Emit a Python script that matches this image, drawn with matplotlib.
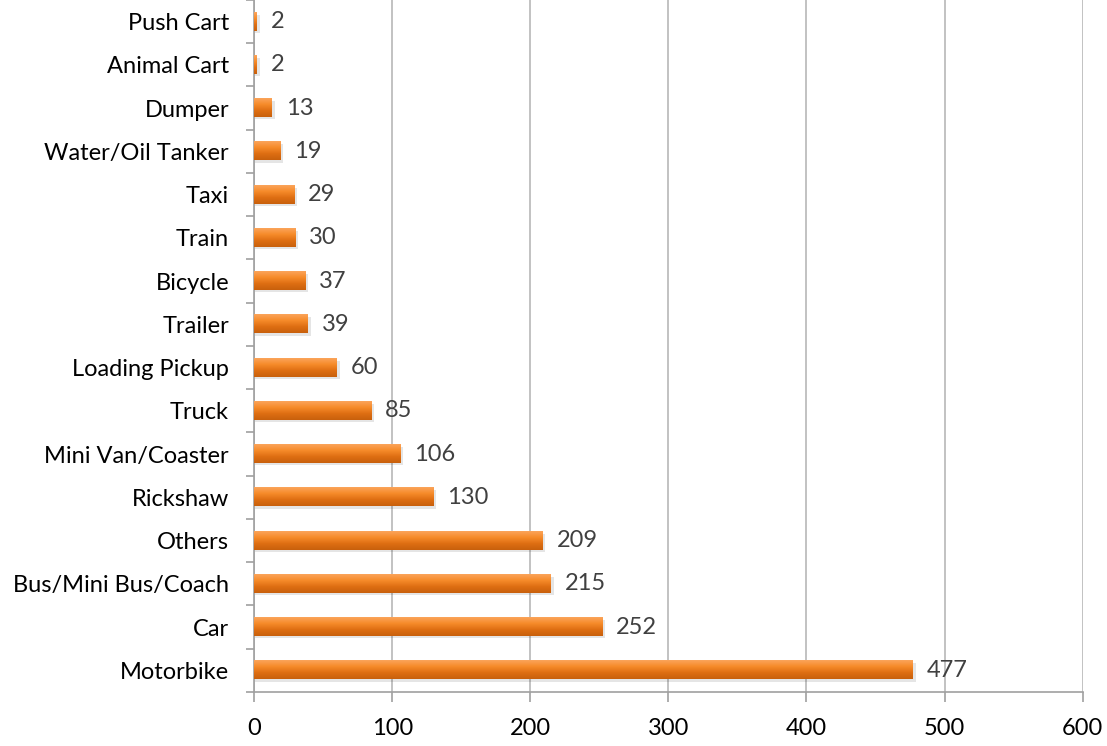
import matplotlib
matplotlib.use("Agg")
import matplotlib.pyplot as plt
import numpy as np
from matplotlib.colors import LinearSegmentedColormap

categories = ["Motorbike", "Car", "Bus/Mini Bus/Coach", "Others", "Rickshaw",
              "Mini Van/Coaster", "Truck", "Loading Pickup", "Trailer", "Bicycle",
              "Train", "Taxi", "Water/Oil Tanker", "Dumper", "Animal Cart", "Push Cart"]
values = [477, 252, 215, 209, 130, 106, 85, 60, 39, 37, 30, 29, 19, 13, 2, 2]
xticks = [0, 100, 200, 300, 400, 500, 600]

plt.rcParams['font.family'] = ['Lato', 'DejaVu Sans']
fig = plt.figure(figsize=(11.07, 7.46), dpi=100)
ax = fig.add_axes([0.2295, 0.0724, 0.7485, 0.9276])

y = np.arange(len(categories))
h = 0.42

cmap = LinearSegmentedColormap.from_list("og", ["#C8600C", "#DE6E12", "#F68B2A", "#FBA45A"])
grad = np.linspace(0, 1, 64).reshape(-1, 1)
for yi, v in zip(y, values):
    ax.imshow(grad, aspect="auto", cmap=cmap,
              extent=(0, v, yi + h / 2, yi - h / 2), zorder=4)
    ax.barh(yi - 0.05, v + 1.5, height=h, left=0.5, color="#000000", alpha=0.10,
            edgecolor="none", zorder=2)

for yi, v in zip(y, values):
    ax.text(v + 10, yi, str(v), va="center", ha="left", fontsize=17, color="#404040", zorder=5)

ax.set_xlim(0, 600)
ax.set_ylim(-0.5, len(categories) - 0.5)
ax.set_xticks(xticks)
ax.set_xticklabels([str(t) for t in xticks], fontsize=17, color="#000000")
ax.set_yticks(y)
ax.set_yticklabels(categories, fontsize=17, color="#000000")
ax.set_yticks(np.arange(-0.5, len(categories), 1), minor=True)
ax.tick_params(axis="y", which="major", length=0, pad=18)
ax.tick_params(axis="y", which="minor", length=6, color="#A0A0A0", width=1.2)
ax.tick_params(axis="x", length=7, color="#A0A0A0", width=1.2, pad=12)

ax.grid(axis="x", color="#B8B8B8", linewidth=1.2, zorder=0)
for s in ["top", "right"]:
    ax.spines[s].set_visible(False)
ax.spines["left"].set_color("#A0A0A0")
ax.spines["bottom"].set_color("#A0A0A0")
ax.spines["left"].set_linewidth(1.2)
ax.spines["bottom"].set_linewidth(1.2)

fig.savefig("out.png", dpi=100)
